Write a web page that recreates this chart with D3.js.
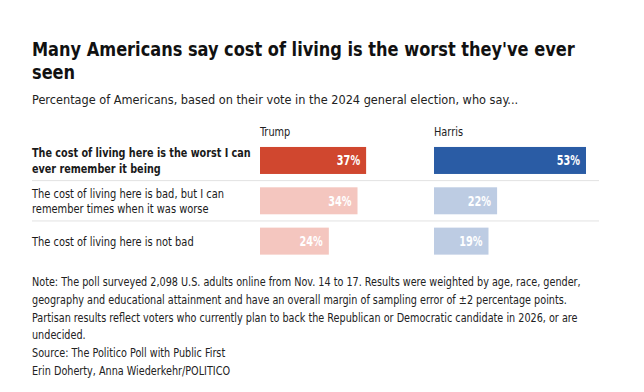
<!DOCTYPE html>
<html>
<head>
<meta charset="utf-8">
<script src="https://cdn.jsdelivr.net/npm/d3@7"></script>
<style>
  body { margin: 0; background: #fff; }
  svg { display: block; font-family: "DejaVu Sans Condensed", "Liberation Sans Narrow", Roboto, sans-serif; }
</style>
</head>
<body>
<svg width="644" height="392"></svg>
<script>
var titleLines = ["Many Americans say cost of living is the worst they've ever", "seen"];
var subtitle = "Percentage of Americans, based on their vote in the 2024 general election, who say...";
var series = ["Trump", "Harris"];
var categories = [
  ["The cost of living here is the worst I can", "ever remember it being"],
  ["The cost of living here is bad, but I can", "remember times when it was worse"],
  ["The cost of living here is not bad"]
];
var trumpValues = [37, 34, 24];
var harrisValues = [53, 22, 19];
var notes = [
  "Note: The poll surveyed 2,098 U.S. adults online from Nov. 14 to 17. Results were weighted by age, race, gender,",
  "geography and educational attainment and have an overall margin of sampling error of \u00b12 percentage points.",
  "Partisan results reflect voters who currently plan to back the Republican or Democratic candidate in 2026, or are",
  "undecided.",
  "Source: The Politico Poll with Public First",
  "Erin Doherty, Anna Wiederkehr/POLITICO"
];

var strong = {Trump: "#d0472f", Harris: "#2a5ca5"},
    light = {Trump: "#f4c6bf", Harris: "#bdcce3"};

var svg = d3.select("svg");
var left = 32;

// the original font is a narrow DIN-like face, so squeeze text horizontally
function label(parent, x, y, k) {
  return parent.append("g")
    .attr("transform", "translate(" + x + "," + y + ") scale(" + k + ",1)")
    .append("text");
}

titleLines.forEach(function(t, i) {
  label(svg, left, 56 + i * 23, 0.9)
    .attr("font-size", 20).attr("font-weight", "bold").attr("fill", "#111").text(t);
});

label(svg, left, 103.5, 0.97).attr("font-size", 13).attr("fill", "#222").text(subtitle);

var x = d3.scaleLinear().domain([0, 53]).range([0, 152]);
var col = d3.scaleOrdinal().domain(series).range([260, 434]);
var y = d3.scaleBand().domain(d3.range(categories.length)).range([140.3, 261.3]);
var barH = 27;

series.forEach(function(s) {
  label(svg, col(s), 136, 0.87).attr("font-size", 12.5).attr("fill", "#222").text(s);
});

// separators
svg.selectAll(".sep").data(d3.range(1, categories.length)).enter().append("line")
  .attr("x1", left).attr("x2", 599)
  .attr("y1", function(d) { return y(d); }).attr("y2", function(d) { return y(d); })
  .attr("stroke", "#e2e2e2").attr("stroke-width", 1);

// row labels
categories.forEach(function(lines, i) {
  var cy = y(i) + y.bandwidth() / 2;
  lines.forEach(function(t, j) {
    label(svg, left, cy + (j - (lines.length - 1) / 2) * 15.5, i === 0 ? 0.825 : 0.845)
      .attr("dy", "0.35em")
      .attr("font-size", 13).attr("font-weight", i === 0 ? "bold" : "normal")
      .attr("fill", "#1a1a1a").text(t);
  });
});

var values = {Trump: trumpValues, Harris: harrisValues};
series.forEach(function(s) {
  var g = svg.append("g").attr("transform", "translate(" + col(s) + ",0)");
  var rows = values[s].map(function(v, i) { return {v: v, i: i}; });
  g.selectAll("rect").data(rows).enter().append("rect")
    .attr("x", 0)
    .attr("y", function(d) { return y(d.i) + (y.bandwidth() - barH) / 2; })
    .attr("width", function(d) { return x(d.v); })
    .attr("height", barH)
    .attr("fill", function(d) { return d.i === 0 ? strong[s] : light[s]; });
  rows.forEach(function(d) {
    label(g, x(d.v) - 6, y(d.i) + y.bandwidth() / 2, 0.8)
      .attr("dy", "0.36em").attr("text-anchor", "end")
      .attr("font-size", 13.5).attr("font-weight", "bold").attr("fill", "#fff")
      .text(d.v + "%");
  });
});

notes.forEach(function(t, i) {
  label(svg, left, 286 + i * 17.8, 0.86).attr("font-size", 12.5).attr("fill", "#222").text(t);
});
</script>
</body>
</html>
